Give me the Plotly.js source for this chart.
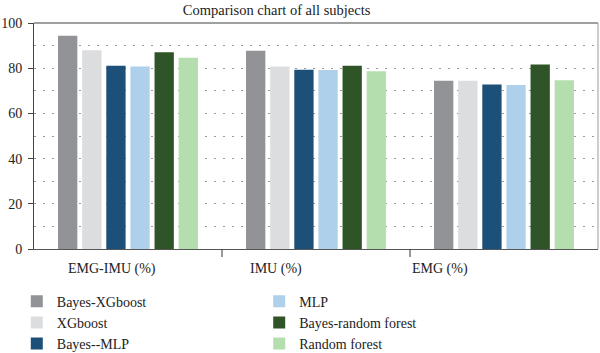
<!DOCTYPE html>
<html>
<head>
<meta charset="utf-8">
<script src="https://cdn.plot.ly/plotly-3.0.1.min.js"></script>
<style>html,body{margin:0;padding:0;background:#fff;}#chart{width:600px;height:353px;}</style>
</head>
<body>
<div id="chart"></div>
<script>
const categories = ['EMG-IMU (%)', 'IMU (%)', 'EMG (%)'];
const seriesNames = ['Bayes-XGboost', 'XGboost', 'Bayes--MLP', 'MLP', 'Bayes-random forest', 'Random forest'];
const bayesXGboost = [94.4, 87.7, 74.5];
const xgboost = [87.9, 80.8, 74.5];
const bayesMLP = [81.1, 79.3, 72.8];
const mlp = [80.8, 79.2, 72.6];
const bayesRandomForest = [87.1, 81.1, 81.6];
const randomForest = [84.6, 78.7, 74.7];
const yTickValues = [0, 20, 40, 60, 80, 100];
const chartTitle = 'Comparison chart of all subjects';

const seriesValues = [bayesXGboost, xgboost, bayesMLP, mlp, bayesRandomForest, randomForest];
const colors = ['#929397', '#dcdddf', '#1d5079', '#aed0ea', '#2f5428', '#b5deae'];
const legendOf = ['legend', 'legend', 'legend', 'legend2', 'legend2', 'legend2'];
// horizontal positions (paper fraction) of the category captions, as placed in the original
const labelPositions = [0.1383, 0.4291, 0.7199];

const FONT = 'Liberation Serif, Times New Roman, serif';

const traces = seriesNames.map((name, i) => ({
  type: 'bar',
  name: name,
  x: categories,
  y: seriesValues[i],
  marker: {color: colors[i], line: {width: 0}},
  legend: legendOf[i],
  hoverinfo: 'x+y+name'
}));

const dotted = '2px,7px';

const shapes = [
  {type: 'line', xref: 'paper', yref: 'paper', x0: 0, x1: 1, y0: 1, y1: 1, line: {color: '#808080', width: 1.5}, layer: 'above'},
  {type: 'line', xref: 'paper', yref: 'paper', x0: 1, x1: 1, y0: 0, y1: 1, line: {color: '#9a9a9a', width: 1}, layer: 'above'}
];
// category divider ticks below the x axis
for (let i = 0; i < categories.length - 1; i++) {
  shapes.push({
    type: 'line', xref: 'x', yref: 'paper',
    x0: i + 0.5, x1: i + 0.5,
    ysizemode: 'pixel', yanchor: 0, y0: 0, y1: -8,
    line: {color: '#333', width: 1}, layer: 'above'
  });
}

const annotations = categories.map((c, i) => ({
  text: c, xref: 'paper', yref: 'paper',
  x: labelPositions[i], y: 0, yshift: -20,
  xanchor: 'center', yanchor: 'middle', showarrow: false,
  font: {family: FONT, size: 14, color: '#222'}
}));

const layout = {
  width: 600,
  height: 353,
  margin: {l: 34, r: 2, t: 23, b: 104, pad: 0, autoexpand: false},
  paper_bgcolor: '#ffffff',
  plot_bgcolor: '#ffffff',
  font: {family: FONT, size: 14, color: '#222'},
  title: {
    text: chartTitle,
    font: {family: FONT, size: 14.5, color: '#222'},
    xref: 'container', x: 0.461, xanchor: 'center',
    yref: 'container', y: 0.973, yanchor: 'middle',
    automargin: false
  },
  barmode: 'group',
  bargap: 0.23,
  bargroupgap: 0.2,
  showlegend: true,
  xaxis: {
    type: 'category',
    categoryorder: 'array',
    categoryarray: categories,
    range: [-0.5, categories.length - 0.5],
    showline: true, linecolor: '#555', linewidth: 1.2,
    ticks: '', showticklabels: false,
    showgrid: false, zeroline: false, fixedrange: true, automargin: false
  },
  yaxis: {
    range: [0, 100],
    tickmode: 'array', tickvals: yTickValues,
    ticks: 'outside', ticklen: 5, tickwidth: 1, tickcolor: '#444',
    showline: true, linecolor: '#444', linewidth: 1,
    showgrid: true, gridcolor: '#9a9a9a', gridwidth: 1, griddash: dotted,
    minor: {dtick: 10, showgrid: true, gridcolor: '#9a9a9a', gridwidth: 1, griddash: dotted, ticks: ''},
    zeroline: false,
    ticklabelstandoff: 3,
    tickfont: {family: FONT, size: 14, color: '#222'},
    fixedrange: true, automargin: false
  },
  shapes: shapes,
  annotations: annotations,
  legend: {
    orientation: 'v',
    xref: 'container', yref: 'container',
    x: 0.028, y: 0.191, xanchor: 'left', yanchor: 'top',
    bgcolor: 'rgba(0,0,0,0)', borderwidth: 0,
    font: {family: FONT, size: 14, color: '#222'},
    traceorder: 'normal'
  },
  legend2: {
    orientation: 'v',
    xref: 'container', yref: 'container',
    x: 0.432, y: 0.191, xanchor: 'left', yanchor: 'top',
    bgcolor: 'rgba(0,0,0,0)', borderwidth: 0,
    font: {family: FONT, size: 14, color: '#222'},
    traceorder: 'normal'
  }
};

Plotly.newPlot('chart', traces, layout, {displayModeBar: false, staticPlot: true});
</script>
</body>
</html>
